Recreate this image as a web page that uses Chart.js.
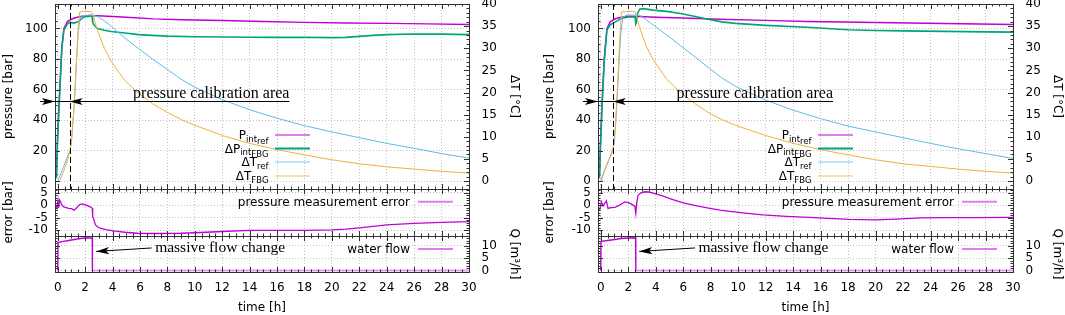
<!DOCTYPE html>
<html>
<head>
<meta charset="utf-8">
<script src="https://cdn.jsdelivr.net/npm/chart.js@4.4.1/dist/chart.umd.min.js"></script>
<style>
  body { margin: 0; background: #fff; }
  #wrap { position: relative; width: 1065px; height: 315px; overflow: hidden; background: #fff; }
  #wrap canvas { position: absolute; top: 0; }
</style>
</head>
<body>
<div id="wrap">
  <canvas id="aTop" width="532" height="315" style="left:0"></canvas>
  <canvas id="aMid" width="532" height="315" style="left:0"></canvas>
  <canvas id="aBot" width="532" height="315" style="left:0"></canvas>
  <canvas id="bTop" width="533" height="315" style="left:532px"></canvas>
  <canvas id="bMid" width="533" height="315" style="left:532px"></canvas>
  <canvas id="bBot" width="533" height="315" style="left:532px"></canvas>
</div>
<script>
// ---- axes / ticks ----
const xMin = -0.2, xMax = 30;
const xTicks = [0, 2, 4, 6, 8, 10, 12, 14, 16, 18, 20, 22, 24, 26, 28, 30];
const pRange = [-5, 116], pTicks = [0, 20, 40, 60, 80, 100];
const tRange = [-1.8, 40], tTicks = [0, 5, 10, 15, 20, 25, 30, 35, 40];
const eRange = [-12.3, 6.4], eTicks = [-10, -5, 0, 5];
const qRange = [-0.6, 14], qTicks = [0, 5, 10];

// ---- left test (A) ----
const tPintA = [-0.1, 0.0, 0.15, 0.3, 0.45, 0.7, 1.1, 1.5, 1.9, 2.4, 2.9, 4, 5, 7, 9, 12, 15, 18, 21, 24, 27, 30];
const pintA  = [3, 33, 62, 88, 100, 104.5, 106.5, 107.5, 108.2, 108.5, 108.3, 107.8, 107.3, 106.3, 105.7, 105.2, 104.6, 104.0, 103.6, 103.3, 103.0, 102.6];
const tDpA = [-0.1, 0.0, 0.15, 0.3, 0.45, 0.7, 0.9, 1.2, 1.5, 1.9, 2.4, 2.5, 2.55, 2.62, 2.9, 3.4, 3.9, 4.9, 5.9, 6.9, 8, 10, 12, 14, 16, 18, 20, 21, 22, 23, 24, 26, 28, 30];
const dpA  = [2, 30, 58, 87, 99, 103, 104, 103.5, 104.5, 107.5, 108, 108, 104, 102.5, 100, 98.8, 98, 97, 96, 95.5, 95, 94.6, 94.4, 94.3, 94.2, 94.3, 94.0, 94.2, 94.8, 95.5, 96.0, 96.4, 96.3, 96.0];
const tTrefA = [0.0, 0.4, 0.9, 1.0, 1.2, 1.35, 1.5, 1.65, 1.9, 2.4, 2.9, 3.4, 3.9, 4.9, 5.9, 6.9, 8, 9, 10, 12, 14, 16, 18, 20, 22, 24, 26, 28, 30];
const trefA  = [0, 3, 7, 9, 17, 26, 34, 37, 37.4, 37.5, 37.2, 36.2, 35, 32.3, 29.9, 27.6, 25.2, 23.0, 21.2, 18.4, 16.1, 14.2, 12.5, 11.1, 9.8, 8.5, 7.4, 6.2, 5.2];
const tTfbgA = [0.15, 0.4, 0.7, 0.9, 1.0, 1.2, 1.35, 1.5, 1.6, 1.9, 2.45, 2.6, 2.9, 3.4, 3.9, 4.9, 5.9, 6.9, 8, 9, 10, 12, 14, 16, 18, 20, 22, 24, 26, 28, 30];
const tfbgA  = [0, 2, 4.5, 7, 9, 17, 26, 35, 38.2, 38.3, 38.3, 37.2, 34, 30, 27, 22.7, 19.8, 17.5, 15.5, 13.9, 12.6, 10.3, 8.5, 7.1, 5.9, 4.8, 3.9, 3.2, 2.7, 2.2, 1.8];
const tErrA = [-0.15, -0.05, 0.02, 0.07, 0.13, 0.2, 0.32, 0.44, 0.8, 1.0, 1.2, 1.4, 1.6, 1.78, 2.0, 2.2, 2.4, 2.52, 2.55, 2.6, 2.75, 2.9, 3.1, 3.5, 4.08, 4.9, 5.8, 6.8, 9, 10, 12, 14, 16, 18, 20, 21, 22, 23, 24, 26, 28, 30];
const errA  = [0, -1.3, 1.8, -1.0, 2.0, 1.3, 0, -0.7, -1.3, -1.4, -2.0, -1.0, 0.2, 0.5, 0.2, -0.3, -0.8, -1.3, -4.6, -5.2, -7.9, -8.6, -9.2, -9.8, -10.3, -10.8, -11.2, -11.3, -11.2, -11.0, -10.5, -10.1, -10.1, -10.1, -9.9, -9.6, -9.1, -8.5, -7.9, -7.3, -6.9, -6.6];
const tFlowA = [-0.05, 0.0, 0.02, 0.3, 0.8, 1.3, 1.8, 2.2, 2.52, 2.53, 30];
const flowA  = [0, 0, 11.3, 11.7, 12.2, 12.7, 13.1, 13.2, 13.2, 0, 0];

// ---- right test (B) ----
const tPintB = [-0.1, 0.0, 0.1, 0.25, 0.45, 0.7, 1.1, 1.5, 2.0, 2.8, 4, 6, 8.6, 12, 15, 20, 25, 30];
const pintB  = [3, 30, 52, 80, 100, 104.5, 106.5, 107.3, 108, 107.8, 107.3, 106.8, 106, 105.3, 104.6, 103.9, 103.2, 102.6];
const tDpB = [-0.1, 0.0, 0.1, 0.25, 0.45, 0.7, 1.1, 1.5, 2.0, 2.5, 2.55, 2.6, 2.68, 2.85, 3.1, 3.8, 4.8, 5.8, 6.8, 7.8, 8.8, 9.8, 12, 15, 18, 20, 22, 25, 28, 30];
const dpB  = [2, 28, 50, 78, 99, 102.5, 104.5, 106.5, 107.5, 107.5, 103, 104, 110, 112.8, 113, 112, 111.2, 109.8, 108, 106, 104.3, 103.3, 102, 100.8, 99.2, 98.7, 98.4, 98.1, 97.8, 97.6];
const tTrefB = [0.0, 0.4, 0.9, 1.0, 1.15, 1.3, 1.45, 1.6, 1.9, 2.4, 2.8, 3.3, 3.8, 4.8, 5.8, 6.8, 7.8, 8.8, 9.8, 12, 14, 16, 18, 20, 22, 24, 26, 28, 30];
const trefB  = [0, 3.5, 7, 9, 16, 25, 33, 37, 37.5, 37.5, 37.5, 36.5, 35.3, 33.0, 30.6, 28.2, 25.7, 23.3, 21.4, 18.3, 16, 14.1, 12.4, 11.1, 9.8, 8.5, 7.3, 6.2, 5.1];
const tTfbgB = [0.05, 0.3, 0.7, 0.9, 1.05, 1.2, 1.35, 1.5, 1.8, 2.5, 2.6, 2.8, 3.3, 3.8, 4.8, 5.8, 6.8, 7.8, 8.8, 9.8, 12, 14, 16, 18, 20, 22, 24, 26, 28, 30];
const tfbgB  = [0, 2.5, 5.5, 7.5, 12, 20, 30, 38.2, 38.3, 38.3, 37.3, 35, 30.5, 27.5, 23, 20, 17.6, 15.5, 13.9, 12.6, 10.3, 8.5, 7.1, 5.9, 4.8, 3.9, 3.3, 2.7, 2.2, 1.8];
const tErrB = [-0.07, 0.05, 0.17, 0.29, 0.41, 0.53, 0.75, 1.02, 1.38, 1.75, 2.0, 2.24, 2.48, 2.55, 2.62, 2.72, 2.9, 3.2, 3.5, 3.94, 4.5, 5.03, 6.0, 7.0, 7.94, 8.7, 9.4, 10.5, 11.8, 13.5, 15.2, 16.5, 18.1, 20.0, 21.5, 23.25, 25, 27, 30];
const errB  = [-2.0, 1.3, -0.4, 0.7, 1.7, -1.3, -1.0, -0.9, 0, 1.3, 1.0, 0.4, -0.4, -3.3, 1.0, 4.0, 4.8, 5.3, 5.2, 4.6, 3.7, 2.6, 0.9, -0.3, -1.3, -2.0, -2.5, -3.2, -3.9, -4.5, -4.9, -5.3, -5.7, -5.9, -5.6, -5.1, -5.0, -5.0, -4.9];
const tFlowB = [-0.05, 0.0, 0.02, 0.5, 1.0, 1.5, 2.0, 2.54, 2.55, 30];
const flowB  = [0, 0, 11.8, 12.2, 12.6, 13.0, 13.2, 13.3, 0, 0];

// annotation anchors (time h / axis units)
const dashT = 0.87, calibP = 52.5, calibEnd = 16.9;
const flowTip = [2.8, 7.75], flowTail = [6.85, 9.15];

// ---- styling ----
Chart.defaults.font.family = "'DejaVu Sans', sans-serif";
Chart.defaults.font.size = 12;
Chart.defaults.color = '#000';

const H = 315;
const ROWS = { top: [4, 189], mid: [189, 236], bot: [236, 272] };
const GRID = '#c4c4c4';
const INK = '#303030';
const C = { pint: '#bf00d6', dp: '#00a47a', tref: '#5cbbec', tfbg: '#f0b03c' };
const PANELS = {
  a: { w: 532, pl: 55, pr: 469, tl: 1.5, tr: 11 },
  b: { w: 533, pl: 66, pr: 481, tl: 11, tr: 1 }
};
const deco = {};

function pts(t, v) { return t.map((x, i) => ({ x: x, y: v[i] })); }
function ticksFrom(arr) { return s => { s.ticks = arr.map(v => ({ value: v })); }; }
function plainLabels(s) { s.ticks.forEach(t => { t.label = String(t.value); }); }
function noPad(s) { s.paddingTop = 0; s.paddingBottom = 0; s.paddingLeft = 0; s.paddingRight = 0; }

function series(t, v, color, axis, w, order, flat) {
  const ds = { data: pts(t, v), borderColor: color, borderWidth: w, yAxisID: axis, order: order,
    pointRadius: 0, tension: 0, fill: false };
  if (flat) {
    ds.segment = {
      borderColor: c => (c.p0.parsed.y === 0 && c.p1.parsed.y === 0) ? 'rgba(191,0,214,0.35)' : undefined,
      borderWidth: c => (c.p0.parsed.y === 0 && c.p1.parsed.y === 0) ? 2 : undefined
    };
  }
  return ds;
}

function yAxis(p, pos, range, ticks, title, labels, grid) {
  return {
    type: 'linear', position: pos, min: range[0], max: range[1],
    afterBuildTicks: ticksFrom(ticks),
    afterTickToLabelConversion: plainLabels,
    afterFit: s => { s.width = pos === 'left' ? p.pl : p.w - p.pr; noPad(s); },
    grid: { display: grid, color: GRID, lineWidth: 1, drawTicks: false },
    border: { display: false, dash: [1, 2] },
    ticks: { display: labels, autoSkip: false, padding: pos === 'left' ? 7 : 12.5 },
    title: { display: !!title, text: title || '', padding: { top: pos === 'left' ? p.tl : p.tr, bottom: 0 } }
  };
}

function opts(p, row, yL, yR) {
  const top = ROWS[row][0], bottom = ROWS[row][1];
  const bot = row === 'bot';
  return {
    responsive: false, animation: false, events: [], devicePixelRatio: 1,
    layout: { padding: { left: 0, right: 0, top: top, bottom: bot ? 0 : H - bottom } },
    plugins: { legend: { display: false }, tooltip: { enabled: false } },
    scales: {
      x: {
        type: 'linear', min: xMin, max: xMax,
        afterBuildTicks: ticksFrom(xTicks),
        afterTickToLabelConversion: plainLabels,
        afterFit: s => { s.height = bot ? H - bottom : 0; noPad(s); },
        grid: { color: GRID, lineWidth: 1, drawTicks: false },
        border: { display: false, dash: [1, 2] },
        ticks: { display: bot, padding: 9, maxRotation: 0, autoSkip: false },
        title: { display: bot, text: 'time [h]', padding: { top: 0, bottom: 0 } }
      },
      y: yL,
      y2: yR
    }
  };
}

// tick marks: [value, length]
function tickVals(scale, major, sub) {
  const step = major[1] - major[0], m = step / sub, out = [];
  const first = major[0] - step, last = major[major.length - 1] + step;
  for (let i = 0; first + i * m <= last + 1e-9; i++) {
    const v = first + i * m;
    if (v < scale.min - 1e-9 || v > scale.max + 1e-9) continue;
    out.push([v, i % sub === 0 ? 5 : 2.5]);
  }
  return out;
}

function head(ctx, x, y, ang) {
  ctx.save();
  ctx.translate(x, y);
  ctx.rotate(ang);
  ctx.beginPath();
  ctx.moveTo(0, 0); ctx.lineTo(-13, -3.6); ctx.lineTo(-10, 0); ctx.lineTo(-13, 3.6);
  ctx.closePath();
  ctx.fill();
  ctx.restore();
}

function rich(ctx, parts, xr, base) {
  let w = 0;
  parts.forEach(q => { ctx.font = q[1] + "px 'DejaVu Sans'"; w += ctx.measureText(q[0]).width; });
  let x = xr - w;
  parts.forEach(q => {
    ctx.font = q[1] + "px 'DejaVu Sans'";
    ctx.fillText(q[0], x, base + q[2]);
    x += ctx.measureText(q[0]).width;
  });
}

const framePlugin = {
  id: 'frame',
  afterDraw(chart) {
    const o = deco[chart.canvas.id];
    const ctx = chart.ctx, a = chart.chartArea, sx = chart.scales.x;
    ctx.save();

    if (o.vline !== undefined) {
      const x = Math.round(sx.getPixelForValue(o.vline)) + 0.5;
      ctx.strokeStyle = '#000'; ctx.lineWidth = 1; ctx.setLineDash([6, 3]);
      ctx.beginPath(); ctx.moveTo(x, a.top); ctx.lineTo(x, a.bottom); ctx.stroke();
      ctx.setLineDash([]);
    }

    // inward tick marks + border
    ctx.strokeStyle = INK; ctx.lineWidth = 1;
    ctx.beginPath();
    tickVals(sx, xTicks, 4).forEach(([v, len]) => {
      const x = Math.round(sx.getPixelForValue(v)) + 0.5;
      ctx.moveTo(x, a.bottom); ctx.lineTo(x, a.bottom - len);
      ctx.moveTo(x, a.top); ctx.lineTo(x, a.top + len);
    });
    [['left', o.left], ['right', o.right]].forEach(([side, t]) => {
      const sc = chart.scales[t[0]];
      tickVals(sc, t[1], t[2]).forEach(([v, len]) => {
        const y = Math.round(sc.getPixelForValue(v)) + 0.5;
        if (y <= a.top + 1 || y >= a.bottom - 1) return;
        const x0 = side === 'left' ? a.left : a.right;
        ctx.moveTo(x0, y); ctx.lineTo(x0 + (side === 'left' ? len : -len), y);
      });
    });
    ctx.stroke();
    ctx.strokeRect(a.left + 0.5, a.top + 0.5, a.right - a.left, a.bottom - a.top);

    ctx.fillStyle = '#000'; ctx.strokeStyle = '#000';
    if (o.calib) {
      const y = Math.round(chart.scales.y.getPixelForValue(o.calib.y)) + 0.5;
      const xa = a.left, xb = sx.getPixelForValue(dashT), xe = sx.getPixelForValue(o.calib.to);
      ctx.beginPath(); ctx.moveTo(xa - 15, y); ctx.lineTo(xe, y); ctx.stroke();
      head(ctx, xa, y, 0);
      head(ctx, xb, y, Math.PI);
      ctx.font = "16px 'Liberation Serif'"; ctx.textAlign = 'right'; ctx.textBaseline = 'alphabetic';
      ctx.fillText(o.calib.text, xe, y - 3.5);
    }
    if (o.flow) {
      const sy = chart.scales.y2;
      const xt = sx.getPixelForValue(flowTip[0]), yt = sy.getPixelForValue(flowTip[1]);
      const xs = sx.getPixelForValue(flowTail[0]), ys = sy.getPixelForValue(flowTail[1]);
      ctx.beginPath(); ctx.moveTo(xs, ys); ctx.lineTo(xt, yt); ctx.stroke();
      head(ctx, xt, yt, Math.atan2(yt - ys, xt - xs));
      ctx.font = "15.5px 'Liberation Serif'"; ctx.textAlign = 'left'; ctx.textBaseline = 'alphabetic';
      ctx.fillText(o.flow, xs + 3.5, ys + 4.5);
    }

    // key
    if (o.key) {
      ctx.textAlign = 'left'; ctx.textBaseline = 'alphabetic';
      o.key.rows.forEach(r => {
        const y = a.top + r.dy;
        ctx.fillStyle = '#000';
        rich(ctx, r.parts, o.key.side === 'left' ? a.left + o.key.tx : a.right - o.key.tx, y + 4.3);
        const x1 = o.key.side === 'left' ? a.left + o.key.l1 : a.right - o.key.l1;
        const x2 = o.key.side === 'left' ? a.left + o.key.l2 : a.right - o.key.l2;
        ctx.globalAlpha = r.alpha; ctx.strokeStyle = r.color; ctx.lineWidth = r.w;
        ctx.beginPath(); ctx.moveTo(x1, y); ctx.lineTo(x2, y); ctx.stroke();
        ctx.globalAlpha = 1;
      });
    }
    ctx.restore();
  }
};

function buildPanel(key, d) {
  const p = PANELS[key];

  deco[key + 'Top'] = {
    left: ['y', pTicks, 4], right: ['y2', tTicks, 5], vline: dashT,
    calib: { y: calibP, to: calibEnd, text: 'pressure calibration area' },
    key: { side: 'left', tx: 213.5, l1: 220, l2: 255, rows: [
      { dy: 131, parts: [['P', 12, 0], ['int', 8.5, 2.5], ['ref', 8.5, 4.5]], color: C.pint, w: 2, alpha: 0.5 },
      { dy: 144.5, parts: [['ΔP', 12, 0], ['int', 8.5, 2.5], ['FBG', 8.5, 4.5]], color: C.dp, w: 2, alpha: 1 },
      { dy: 158, parts: [['ΔT', 12, 0], ['ref', 8.5, 3]], color: C.tref, w: 1, alpha: 0.8 },
      { dy: 172, parts: [['ΔT', 12, 0], ['FBG', 8.5, 3]], color: C.tfbg, w: 1, alpha: 0.8 }
    ] }
  };
  new Chart(document.getElementById(key + 'Top'), {
    type: 'line',
    data: { datasets: [
      series(d.tPint, d.pint, C.pint, 'y', 1.4, 3),
      series(d.tDp, d.dp, C.dp, 'y', 1.6, 2),
      series(d.tTref, d.tref, C.tref, 'y2', 1, 1),
      series(d.tTfbg, d.tfbg, C.tfbg, 'y2', 1, 0)
    ] },
    options: opts(p, 'top',
      yAxis(p, 'left', pRange, pTicks, 'pressure [bar]', true, true),
      yAxis(p, 'right', tRange, tTicks, 'ΔT [°C]', true, false)),
    plugins: [framePlugin]
  });

  deco[key + 'Mid'] = {
    left: ['y', eTicks, 5], right: ['y', eTicks, 5],
    key: { side: 'right', tx: 59, l1: 51, l2: 16, rows: [
      { dy: 12.7, parts: [['pressure measurement error', 12, 0]], color: C.pint, w: 2, alpha: 0.5 }
    ] }
  };
  new Chart(document.getElementById(key + 'Mid'), {
    type: 'line',
    data: { datasets: [series(d.tErr, d.err, C.pint, 'y', 1.3, 0)] },
    options: opts(p, 'mid',
      yAxis(p, 'left', eRange, eTicks, 'error [bar]', true, true),
      yAxis(p, 'right', eRange, eTicks, '', false, false)),
    plugins: [framePlugin]
  });

  deco[key + 'Bot'] = {
    left: ['y2', qTicks, 5], right: ['y2', qTicks, 5],
    flow: 'massive flow change',
    key: { side: 'right', tx: 59, l1: 51, l2: 16, rows: [
      { dy: 13, parts: [['water flow', 12, 0]], color: C.pint, w: 2, alpha: 0.5 }
    ] }
  };
  new Chart(document.getElementById(key + 'Bot'), {
    type: 'line',
    data: { datasets: [series(d.tFlow, d.flow, C.pint, 'y2', 1.4, 0, true)] },
    options: opts(p, 'bot',
      yAxis(p, 'left', qRange, qTicks, '', false, false),
      yAxis(p, 'right', qRange, qTicks, 'Q [m³/h]', true, true)),
    plugins: [framePlugin]
  });
}

buildPanel('a', { tPint: tPintA, pint: pintA, tDp: tDpA, dp: dpA, tTref: tTrefA, tref: trefA,
  tTfbg: tTfbgA, tfbg: tfbgA, tErr: tErrA, err: errA, tFlow: tFlowA, flow: flowA });
buildPanel('b', { tPint: tPintB, pint: pintB, tDp: tDpB, dp: dpB, tTref: tTrefB, tref: trefB,
  tTfbg: tTfbgB, tfbg: tfbgB, tErr: tErrB, err: errB, tFlow: tFlowB, flow: flowB });
</script>
</body>
</html>
